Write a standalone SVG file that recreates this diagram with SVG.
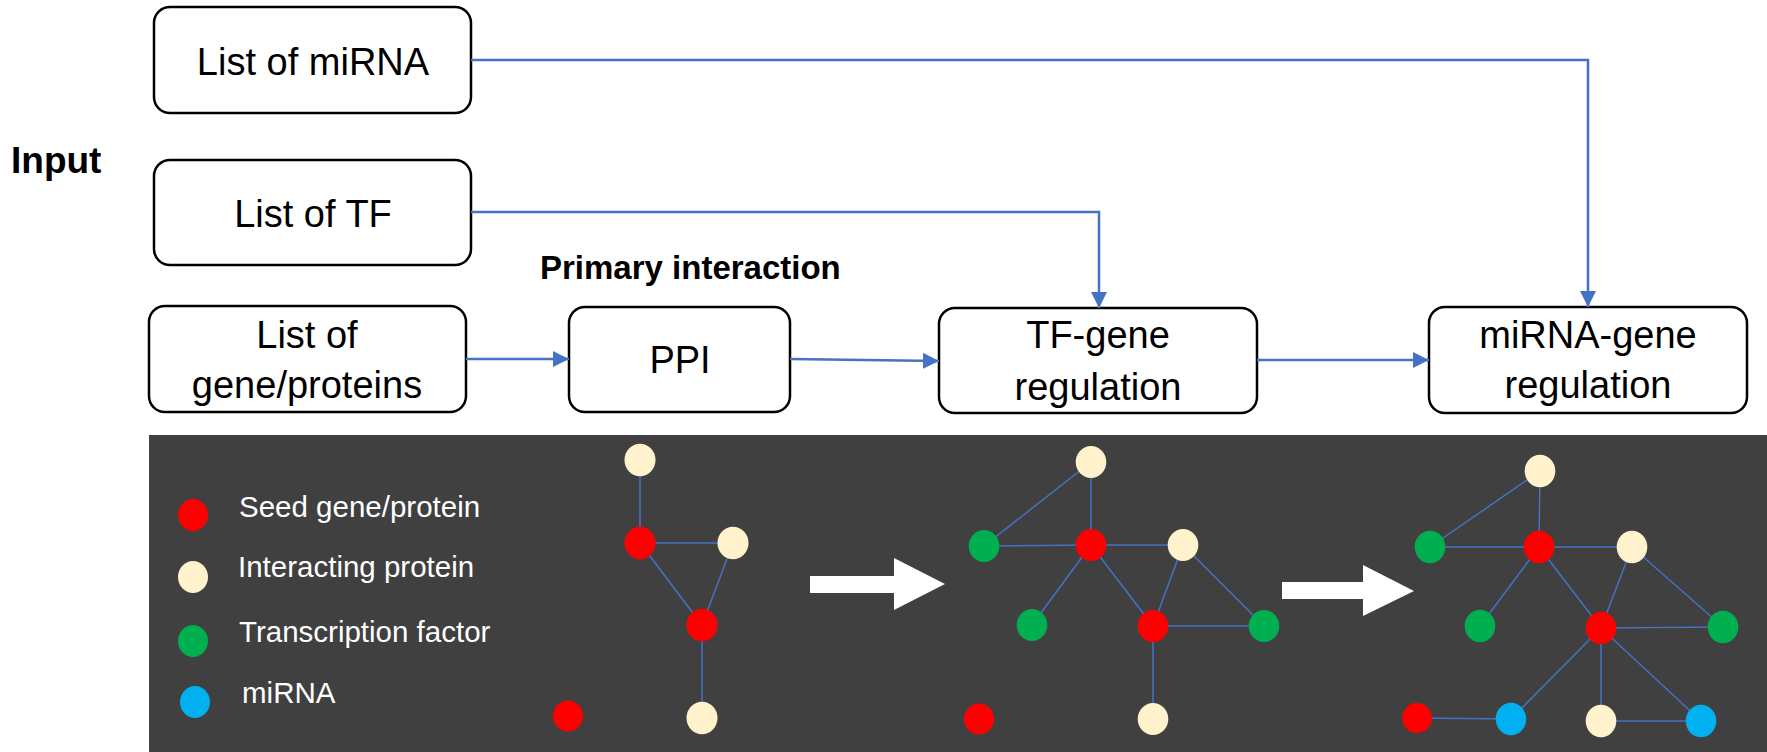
<svg xmlns="http://www.w3.org/2000/svg" width="1767" height="752" viewBox="0 0 1767 752">
<style>
.box{fill:#fff;stroke:#000;stroke-width:2.5}
.t{font-family:"Liberation Sans",Arial,sans-serif;font-size:38px;fill:#000;text-anchor:middle}
.b{font-family:"Liberation Sans",Arial,sans-serif;font-weight:bold;fill:#000}
.con{fill:none;stroke:#4472C4;stroke-width:2.5}
.lg{font-family:"Liberation Sans",Arial,sans-serif;font-size:29.5px;fill:#fff}
.e{stroke:#4472C4;stroke-width:1.5;fill:none}
.r{fill:#FF0000}.c{fill:#FFF2CC}.g{fill:#00B050}.u{fill:#00B0F0}
</style>
<defs>
<marker id="ah" viewBox="0 0 16 16" refX="16" refY="8" markerWidth="16" markerHeight="16" markerUnits="userSpaceOnUse" orient="auto">
<path d="M0,0 L16,8 L0,16 z" fill="#4472C4"/>
</marker>
</defs>
<rect width="1767" height="752" fill="#fff"/>
<text class="b" x="11" y="173" font-size="37">Input</text>
<text class="b" x="540" y="279" font-size="33">Primary interaction</text>
<g id="list-mirna"><rect class="box" x="154" y="7" width="317" height="106" rx="16"/><text class="t" x="313" y="75">List of miRNA</text></g>
<g id="list-tf"><rect class="box" x="154" y="160" width="317" height="105" rx="16"/><text class="t" x="313" y="227">List of TF</text></g>
<g id="list-genes"><rect class="box" x="149" y="306" width="317" height="106" rx="16"/><text class="t" x="307" y="348">List of</text><text class="t" x="307" y="398">gene/proteins</text></g>
<g id="ppi"><rect class="box" x="569" y="307" width="221" height="105" rx="16"/><text class="t" x="680" y="373">PPI</text></g>
<g id="tf-gene"><rect class="box" x="939" y="308" width="318" height="105" rx="16"/><text class="t" x="1098" y="348">TF-gene</text><text class="t" x="1098" y="400">regulation</text></g>
<g id="mirna-gene"><rect class="box" x="1429" y="307" width="318" height="106" rx="16"/><text class="t" x="1588" y="348">miRNA-gene</text><text class="t" x="1588" y="398">regulation</text></g>
<g id="connectors">
<path class="con" d="M471,60 H1588 V307" marker-end="url(#ah)"/>
<path class="con" d="M471,212 H1099 V308" marker-end="url(#ah)"/>
<path class="con" d="M466,359 H569" marker-end="url(#ah)"/>
<path class="con" d="M790,359 L939,361" marker-end="url(#ah)"/>
<path class="con" d="M1257,360 H1429" marker-end="url(#ah)"/>
</g>
<g id="panel">
<rect x="149" y="435" width="1618" height="317" fill="#404040"/>
<g id="legend">
<ellipse class="r" cx="193" cy="515" rx="15" ry="16"/><text class="lg" x="239" y="517">Seed gene/protein</text>
<ellipse class="c" cx="193" cy="577" rx="15" ry="16"/><text class="lg" x="238" y="577">Interacting protein</text>
<ellipse class="g" cx="193" cy="641" rx="15" ry="16"/><text class="lg" x="239" y="642">Transcription factor</text>
<ellipse class="u" cx="195" cy="702" rx="15" ry="16"/><text class="lg" x="242" y="703">miRNA</text>
</g>
<g id="network-1">
<g class="e"><line x1="640" y1="460" x2="640" y2="543"/><line x1="640" y1="543" x2="733" y2="543"/><line x1="640" y1="543" x2="702" y2="625"/><line x1="733" y1="543" x2="702" y2="625"/><line x1="702" y1="625" x2="702" y2="718"/></g>
<ellipse class="c" cx="640" cy="460" rx="15.5" ry="16.3"/>
<ellipse class="r" cx="640" cy="543" rx="15.5" ry="16.3"/>
<ellipse class="c" cx="733" cy="543" rx="15.5" ry="16.3"/>
<ellipse class="r" cx="702" cy="625" rx="15.5" ry="16.3"/>
<ellipse class="c" cx="702" cy="718" rx="15.5" ry="16.3"/>
<ellipse class="r" cx="568" cy="716" rx="15" ry="15.5"/>
</g>
<path id="step-arrow-1" d="M810,576 H894 V558 L945,584 L894,610 V593 H810 z" fill="#fff"/>
<g id="network-2">
<g class="e"><line x1="1091" y1="462" x2="984" y2="546"/><line x1="1091" y1="462" x2="1091" y2="545"/><line x1="984" y1="546" x2="1091" y2="545"/><line x1="1091" y1="545" x2="1183" y2="545"/><line x1="1091" y1="545" x2="1032" y2="625"/><line x1="1091" y1="545" x2="1153" y2="626"/><line x1="1183" y1="545" x2="1153" y2="626"/><line x1="1183" y1="545" x2="1264" y2="626"/><line x1="1153" y1="626" x2="1264" y2="626"/><line x1="1153" y1="626" x2="1153" y2="719"/></g>
<ellipse class="c" cx="1091" cy="462" rx="15.3" ry="16"/>
<ellipse class="g" cx="984" cy="546" rx="15.3" ry="16"/>
<ellipse class="r" cx="1091" cy="545" rx="15.3" ry="16"/>
<ellipse class="c" cx="1183" cy="545" rx="15.3" ry="16"/>
<ellipse class="g" cx="1032" cy="625" rx="15.3" ry="16"/>
<ellipse class="r" cx="1153" cy="626" rx="15.3" ry="16"/>
<ellipse class="g" cx="1264" cy="626" rx="15.3" ry="16"/>
<ellipse class="r" cx="979" cy="719" rx="15" ry="15.5"/>
<ellipse class="c" cx="1153" cy="719" rx="15.3" ry="16"/>
</g>
<path id="step-arrow-2" d="M1282,582 H1363 V565 L1414,591 L1363,616 V599 H1282 z" fill="#fff"/>
<g id="network-3">
<g class="e"><line x1="1540" y1="471" x2="1430" y2="547"/><line x1="1540" y1="471" x2="1539" y2="547"/><line x1="1430" y1="547" x2="1539" y2="547"/><line x1="1539" y1="547" x2="1632" y2="547"/><line x1="1539" y1="547" x2="1480" y2="626"/><line x1="1539" y1="547" x2="1601" y2="628"/><line x1="1632" y1="547" x2="1601" y2="628"/><line x1="1632" y1="547" x2="1723" y2="627"/><line x1="1601" y1="628" x2="1723" y2="627"/><line x1="1601" y1="628" x2="1511" y2="719"/><line x1="1601" y1="628" x2="1601" y2="721"/><line x1="1601" y1="628" x2="1701" y2="721"/><line x1="1417" y1="718" x2="1511" y2="719"/><line x1="1601" y1="721" x2="1701" y2="721"/></g>
<ellipse class="c" cx="1540" cy="471" rx="15.3" ry="16.3"/>
<ellipse class="g" cx="1430" cy="547" rx="15.3" ry="16.3"/>
<ellipse class="r" cx="1539" cy="547" rx="15.3" ry="16.3"/>
<ellipse class="c" cx="1632" cy="547" rx="15.3" ry="16.3"/>
<ellipse class="g" cx="1480" cy="626" rx="15.3" ry="16.3"/>
<ellipse class="r" cx="1601" cy="628" rx="15.3" ry="16.3"/>
<ellipse class="g" cx="1723" cy="627" rx="15.3" ry="16.3"/>
<ellipse class="r" cx="1417" cy="718" rx="15" ry="15"/>
<ellipse class="u" cx="1511" cy="719" rx="15.3" ry="16.3"/>
<ellipse class="c" cx="1601" cy="721" rx="15.3" ry="16.3"/>
<ellipse class="u" cx="1701" cy="721" rx="15.3" ry="16.3"/>
</g>
</g>
</svg>
